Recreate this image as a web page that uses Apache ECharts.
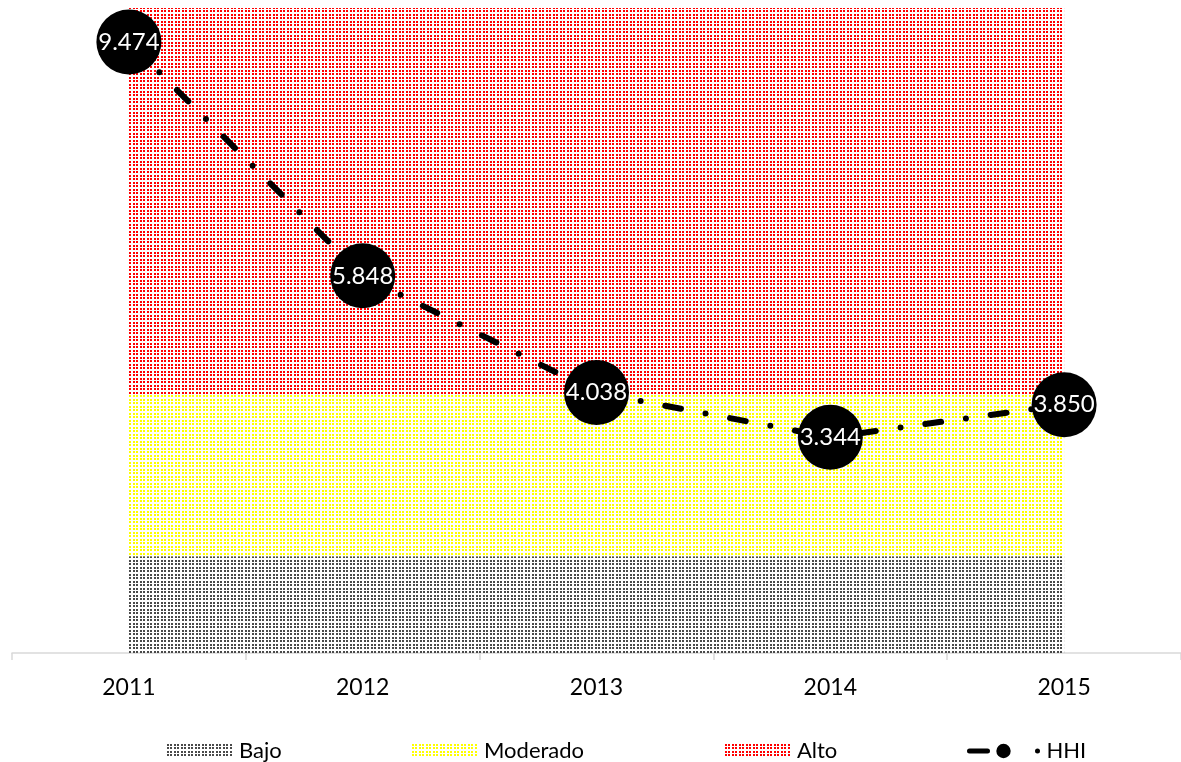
<!DOCTYPE html>
<html lang="es">
<head>
    <meta charset="UTF-8">
    <title>HHI</title>
    <script src="https://cdn.jsdelivr.net/npm/echarts@6.0.0/dist/echarts.min.js"></script>
    <style>
        body { margin: 0; background: #fff; }
        #chart { width: 1181px; height: 762px; }
    </style>
</head>
<body>
    <div id="chart"></div>
    <script>
        // Datos
        let years = ["2011", "2012", "2013", "2014", "2015"];
        let bajo = [1.5, 1.5, 1.5, 1.5, 1.5];
        let moderado = [2.5, 2.5, 2.5, 2.5, 2.5];
        let alto = [6, 6, 6, 6, 6];
        let hhi = [9.474, 5.848, 4.038, 3.344, 3.850];

        // patrón de puntos tipo Excel (paso 3/4 px)
        function dots(color) {
            let c = document.createElement("canvas");
            c.width = 7;
            c.height = 7;
            let ctx = c.getContext("2d");
            ctx.fillStyle = color;
            [0, 3].forEach(x => {
                [0, 3].forEach(y => ctx.fillRect(x, y, 2, 2));
            });
            return { image: c, repeat: "repeat" };
        }

        let font = "Lato, 'DejaVu Sans', sans-serif";
        let grayDots = dots("#4a4a4a");
        let yellowDots = dots("#ffff00");
        let redDots = dots("#ff0000");

        function areaSerie(name, data, pattern) {
            return {
                name: name,
                type: "line",
                stack: "bandas",
                data: data,
                symbol: "none",
                lineStyle: { width: 0 },
                itemStyle: { color: pattern },
                areaStyle: { color: pattern, opacity: 1 },
                silent: true,
                z: 1
            };
        }

        function legendAt(left, item, width, height) {
            return {
                left: left,
                top: 735,
                itemWidth: width,
                itemHeight: height,
                itemGap: 0,
                data: [item],
                textStyle: { fontFamily: font, fontSize: 22, color: "#000", padding: [0, 0, 0, 2] }
            };
        }

        let chart = echarts.init(document.getElementById("chart"));
        chart.setOption({
            animation: false,
            grid: { left: 12, right: 0, top: 8, bottom: 109 },
            legend: [
                legendAt(162, { name: "Bajo", icon: "rect" }, 65, 14),
                legendAt(407, { name: "Moderado", icon: "rect" }, 65, 14),
                legendAt(720, { name: "Alto", icon: "rect" }, 65, 14),
                legendAt(960, {
                    name: "HHI",
                    lineStyle: { width: 5, type: [18, 50, 0, 100], cap: "round" }
                }, 72, 18)
            ],
            xAxis: {
                type: "category",
                data: years,
                boundaryGap: true,
                axisLine: { lineStyle: { color: "#d9d9d9", width: 1.5 } },
                axisTick: { show: true, length: 7, lineStyle: { color: "#d9d9d9", width: 1.5 } },
                axisLabel: { fontFamily: font, fontSize: 23, color: "#000", margin: 23 }
            },
            yAxis: {
                type: "value",
                min: 0,
                max: 10,
                show: false,
                splitLine: { show: false }
            },
            series: [
                areaSerie("Bajo", bajo, grayDots),
                areaSerie("Moderado", moderado, yellowDots),
                areaSerie("Alto", alto, redDots),
                {
                    name: "HHI",
                    type: "line",
                    data: hhi,
                    symbol: "circle",
                    symbolSize: 65,
                    itemStyle: { color: "#000" },
                    lineStyle: { color: "#000", width: 6, type: [16, 25, 0, 25], cap: "round", dashOffset: -2 },
                    label: {
                        show: true,
                        position: "inside",
                        color: "#fff",
                        fontFamily: font,
                        fontSize: 24,
                        formatter: function (p) { return p.value.toFixed(3); }
                    },
                    z: 5
                }
            ]
        });
    </script>
</body>
</html>
